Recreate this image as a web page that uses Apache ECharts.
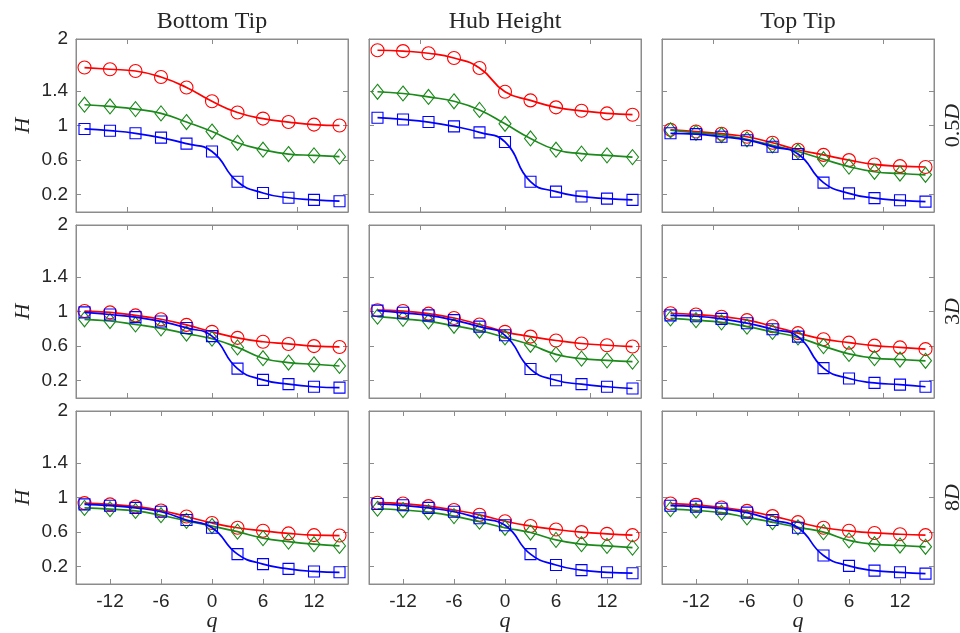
<!DOCTYPE html>
<html>
<head>
<meta charset="utf-8">
<script src="https://cdn.jsdelivr.net/npm/echarts@6/dist/echarts.min.js"></script>
<style>html,body{margin:0;padding:0;background:#fff}#c{width:960px;height:633px}</style>
</head>
<body>
<div id="c"></div>
<script>
// ---- data ----
const q = [-15, -12, -9, -6, -3, 0, 3, 6, 9, 12, 15];
const xTicksInner = [-10, 0, 10];
const xTicksBottom = [-12, -6, 0, 6, 12];
const yTicks = [0.2, 0.6, 1, 1.4, 2];
const colTitles = ['Bottom Tip', 'Hub Height', 'Top Tip'];
const rowLabels = ['0.5', '3', '8'];

const bottom05Red   = [1.67, 1.65, 1.63, 1.56, 1.44, 1.28, 1.15, 1.08, 1.04, 1.01, 1.00];
const bottom05Green = [1.24, 1.22, 1.19, 1.14, 1.04, 0.93, 0.80, 0.72, 0.67, 0.655, 0.64];
const bottom05Blue  = [0.96, 0.94, 0.91, 0.86, 0.79, 0.70, 0.35, 0.22, 0.165, 0.14, 0.125];
const hub05Red      = [1.87, 1.86, 1.835, 1.78, 1.665, 1.39, 1.29, 1.21, 1.17, 1.14, 1.125];
const hub05Green    = [1.39, 1.37, 1.33, 1.28, 1.18, 1.02, 0.85, 0.72, 0.675, 0.655, 0.635];
const hub05Blue     = [1.09, 1.07, 1.04, 0.99, 0.92, 0.81, 0.35, 0.235, 0.18, 0.155, 0.14];
const top05Red      = [0.95, 0.93, 0.905, 0.87, 0.80, 0.72, 0.66, 0.60, 0.55, 0.53, 0.52];
const top05Green    = [0.945, 0.915, 0.89, 0.84, 0.77, 0.70, 0.61, 0.525, 0.465, 0.445, 0.43];
const top05Blue     = [0.91, 0.90, 0.87, 0.83, 0.755, 0.67, 0.34, 0.215, 0.16, 0.135, 0.12];

const bottom3Red    = [1.005, 0.99, 0.955, 0.91, 0.845, 0.765, 0.695, 0.65, 0.625, 0.60, 0.59];
const bottom3Green  = [0.91, 0.89, 0.85, 0.805, 0.745, 0.685, 0.585, 0.46, 0.41, 0.39, 0.37];
const bottom3Blue   = [0.99, 0.965, 0.935, 0.885, 0.81, 0.715, 0.34, 0.21, 0.16, 0.13, 0.12];
const hub3Red       = [1.015, 1.005, 0.975, 0.925, 0.85, 0.765, 0.71, 0.665, 0.63, 0.61, 0.595];
const hub3Green     = [0.94, 0.915, 0.885, 0.835, 0.78, 0.70, 0.615, 0.505, 0.455, 0.435, 0.42];
const hub3Blue      = [1.01, 0.985, 0.955, 0.90, 0.825, 0.725, 0.335, 0.205, 0.16, 0.13, 0.11];
const top3Red       = [0.98, 0.965, 0.94, 0.90, 0.83, 0.75, 0.68, 0.64, 0.605, 0.585, 0.565];
const top3Green     = [0.92, 0.90, 0.875, 0.825, 0.765, 0.70, 0.60, 0.51, 0.46, 0.445, 0.43];
const top3Blue      = [0.955, 0.945, 0.915, 0.865, 0.795, 0.71, 0.345, 0.225, 0.175, 0.155, 0.13];

const bottom8Red    = [0.935, 0.92, 0.895, 0.85, 0.78, 0.705, 0.65, 0.615, 0.585, 0.565, 0.56];
const bottom8Green  = [0.88, 0.865, 0.845, 0.795, 0.73, 0.67, 0.605, 0.53, 0.49, 0.46, 0.44];
const bottom8Blue   = [0.92, 0.905, 0.88, 0.835, 0.74, 0.65, 0.345, 0.23, 0.175, 0.145, 0.135];
const hub8Red       = [0.94, 0.93, 0.90, 0.855, 0.80, 0.725, 0.67, 0.63, 0.60, 0.58, 0.565];
const hub8Green     = [0.87, 0.855, 0.83, 0.785, 0.72, 0.65, 0.595, 0.51, 0.46, 0.44, 0.42];
const hub8Blue      = [0.925, 0.91, 0.88, 0.835, 0.76, 0.68, 0.345, 0.22, 0.16, 0.135, 0.125];
const top8Red       = [0.93, 0.915, 0.885, 0.845, 0.785, 0.715, 0.65, 0.615, 0.59, 0.575, 0.565];
const top8Green     = [0.865, 0.85, 0.825, 0.77, 0.715, 0.655, 0.60, 0.505, 0.46, 0.445, 0.43];
const top8Blue      = [0.905, 0.895, 0.87, 0.825, 0.74, 0.65, 0.33, 0.21, 0.155, 0.135, 0.12];

const panels = [
  [bottom05Red, bottom05Green, bottom05Blue], [hub05Red, hub05Green, hub05Blue], [top05Red, top05Green, top05Blue],
  [bottom3Red, bottom3Green, bottom3Blue],    [hub3Red, hub3Green, hub3Blue],    [top3Red, top3Green, top3Blue],
  [bottom8Red, bottom8Green, bottom8Blue],    [hub8Red, hub8Green, hub8Blue],    [top8Red, top8Green, top8Blue]
];

// ---- layout / style ----
const colLeft = [76, 369, 662];
const rowTop = [39, 225, 411];
const W = 272, H = 173;
const axisGrey = '#8c8c8c';
const tickFont = { fontFamily: 'Liberation Sans', fontSize: 19, color: '#262626' };
const seriesStyle = [
  { color: '#ff0000', symbol: 'circle', size: 13 },
  { color: '#1b8a1b', symbol: 'diamond', size: [12, 15] },
  { color: '#0000ff', symbol: 'rect', size: 11 }
];

const grid = [], xAxis = [], yAxis = [], series = [], graphic = [];
for (let r = 0; r < 3; r++) {
  for (let c = 0; c < 3; c++) {
    const gi = r * 3 + c;
    grid.push({ left: colLeft[c], top: rowTop[r], width: W, height: H, show: true, borderColor: axisGrey, borderWidth: 1, backgroundColor: '#fff' });
    const xt = r === 2 ? xTicksBottom : xTicksInner;
    const tickCommon = { show: true, inside: true, length: 5, lineStyle: { color: axisGrey, width: 1 } };
    const line = { show: true, onZero: false, lineStyle: { color: axisGrey, width: 1 } };
    xAxis.push({
      type: 'value', gridIndex: gi, min: -16, max: 16, position: 'bottom',
      axisLine: line, splitLine: { show: false },
      axisTick: Object.assign({ customValues: xt }, tickCommon),
      axisLabel: { show: r === 2, customValues: xt, margin: 8, ...tickFont }
    });
    xAxis.push({
      type: 'value', gridIndex: gi, min: -16, max: 16, position: 'top',
      axisLine: line, splitLine: { show: false },
      axisTick: Object.assign({ customValues: xt }, tickCommon),
      axisLabel: { show: false }
    });
    yAxis.push({
      type: 'value', gridIndex: gi, min: 0, max: 2, position: 'left',
      axisLine: line, splitLine: { show: false },
      axisTick: Object.assign({ customValues: yTicks }, tickCommon),
      axisLabel: { show: c === 0, customValues: yTicks, margin: 8, ...tickFont }
    });
    yAxis.push({
      type: 'value', gridIndex: gi, min: 0, max: 2, position: 'right',
      axisLine: line, splitLine: { show: false },
      axisTick: Object.assign({ customValues: yTicks }, tickCommon),
      axisLabel: { show: false }
    });
    panels[gi].forEach((vals, k) => {
      const s = seriesStyle[k];
      series.push({
        type: 'line', xAxisIndex: gi * 2, yAxisIndex: gi * 2,
        data: q.map((x, i) => [x, vals[i]]),
        smooth: 0.5,
        symbol: s.symbol, symbolSize: s.size, showAllSymbol: true,
        lineStyle: { color: s.color, width: 1.7 },
        itemStyle: { color: 'rgba(0,0,0,0)', borderColor: s.color, borderWidth: 1.1 },
        emphasis: { disabled: true }, animation: false, z: 2 + k
      });
    });
  }
}

// titles
colTitles.forEach((t, c) => graphic.push({
  type: 'text', x: colLeft[c] + W / 2, y: 22,
  style: { text: t, font: '24px "Liberation Serif"', fill: '#262626', align: 'center', verticalAlign: 'middle' }
}));
// q labels
for (let c = 0; c < 3; c++) graphic.push({
  type: 'text', x: colLeft[c] + W / 2, y: 621,
  style: { text: 'q', font: 'italic 22px "Liberation Serif"', fill: '#262626', align: 'center', verticalAlign: 'middle' }
});
// H labels and right row labels
for (let r = 0; r < 3; r++) {
  graphic.push({
    type: 'text', x: 23, y: rowTop[r] + H / 2, rotation: Math.PI / 2,
    style: { text: 'H', font: 'italic 22px "Liberation Serif"', fill: '#262626', align: 'center', verticalAlign: 'middle' }
  });
  graphic.push({
    type: 'text', x: 953, y: rowTop[r] + H / 2, rotation: Math.PI / 2,
    style: {
      text: '{n|' + rowLabels[r] + '}{d|D}', align: 'center', verticalAlign: 'middle', fill: '#262626',
      rich: {
        n: { font: '22px "Liberation Serif"', fill: '#262626' },
        d: { font: 'italic 22px "Liberation Serif"', fill: '#262626' }
      }
    }
  });
}

const chart = echarts.init(document.getElementById('c'), null, { renderer: 'canvas' });
chart.setOption({ animation: false, backgroundColor: '#fff', grid, xAxis, yAxis, series, graphic });
</script>
</body>
</html>
